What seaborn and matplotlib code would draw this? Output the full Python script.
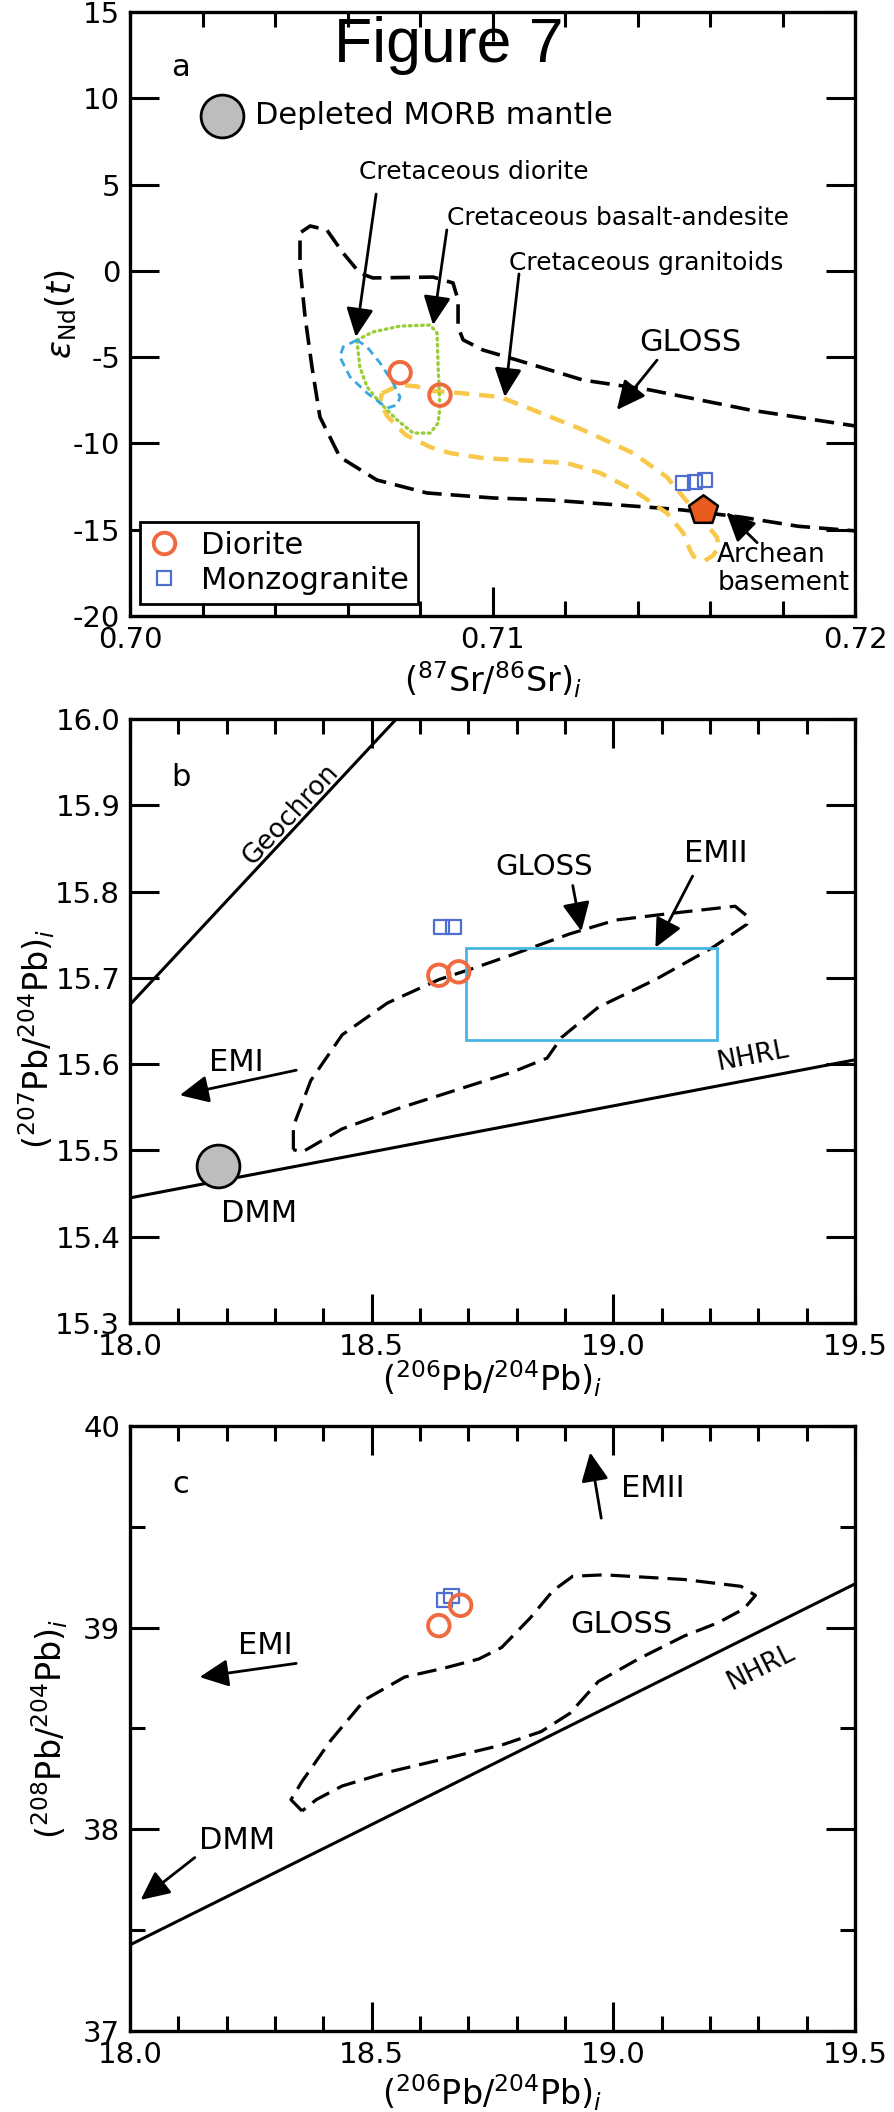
import numpy as np
import matplotlib
matplotlib.use("Agg")
import matplotlib.pyplot as plt
import seaborn as sns
from matplotlib.lines import Line2D
from matplotlib.patches import Rectangle
from matplotlib.ticker import MultipleLocator, FormatStrFormatter

sns.set_theme(style="white")
plt.rcParams["font.family"] = ["DejaVu Sans"]
plt.rcParams["mathtext.fontset"] = "dejavusans"
plt.rcParams["axes.unicode_minus"] = False
plt.rcParams["lines.scale_dashes"] = False
plt.rcParams["text.color"] = "black"
plt.rcParams["axes.labelcolor"] = "black"

# ---------------- panel a: (87Sr/86Sr)i vs eNd(t) ----------------
diorite_sr = [0.70745, 0.70855]
diorite_nd = [-5.9, -7.2]
monzo_sr = [0.71526, 0.71559, 0.71586]
monzo_nd = [-12.30, -12.24, -12.12]
archean_sr = [0.71581]
archean_nd = [-13.86]
dmm_sr = [0.70255]
dmm_nd = [9.0]

gloss_a_sr = [0.7202, 0.7171, 0.71434, 0.7125, 0.71068, 0.70974, 0.70919, 0.70905,
              0.70905, 0.70891, 0.70836, 0.7067, 0.70634, 0.70588, 0.70543, 0.70497,
              0.70469, 0.70469, 0.70483, 0.70502, 0.70524, 0.70579, 0.70681, 0.70819,
              0.71001, 0.71159, 0.71434, 0.71526, 0.71686, 0.71843, 0.7202]
gloss_a_nd = [-9.05, -8.06, -6.9, -6.33, -5.17, -4.59, -4.0, -3.25,
              -1.69, -0.70, -0.36, -0.41, -0.13, 1.03, 2.37, 2.6,
              2.2, 0.22, -2.67, -5.57, -8.47, -10.79, -12.12, -12.87,
              -13.16, -13.28, -13.7, -13.86, -14.27, -14.8, -15.1]

granitoid_sr = [0.70695, 0.70745, 0.70792, 0.70828, 0.7091, 0.71021, 0.71112, 0.7125,
                0.71388, 0.71481, 0.71572, 0.71619, 0.71625, 0.71608, 0.71585, 0.71555,
                0.71545, 0.71526, 0.71481, 0.71388, 0.71297, 0.71206, 0.71068, 0.70974,
                0.70883, 0.70828, 0.70760, 0.70709, 0.70690, 0.70695]
granitoid_nd = [-7.1, -6.6, -6.7, -6.95, -7.08, -7.31, -8.06, -9.22,
                -10.56, -11.95, -14.26, -15.42, -16.0, -16.5, -16.8, -16.55,
                -16.18, -15.19, -14.03, -12.7, -11.71, -11.14, -10.96, -10.85,
                -10.56, -10.21, -9.5, -8.4, -7.6, -7.1]

basalt_sr = [0.70626, 0.7067, 0.70745, 0.70828, 0.70847, 0.7085, 0.70855, 0.7085,
             0.70828, 0.70781, 0.70737, 0.7069, 0.70654, 0.70634, 0.70626]
basalt_nd = [-4.01, -3.54, -3.2, -3.14, -3.6, -5.57, -7.89, -8.82,
             -9.4, -9.4, -8.64, -7.66, -6.73, -5.57, -4.01]

cret_diorite_sr = [0.70626, 0.70588, 0.70579, 0.70607, 0.70654, 0.70709, 0.70737,
                   0.70745, 0.70726, 0.7069, 0.70654, 0.70626]
cret_diorite_nd = [-4.01, -4.41, -4.99, -6.15, -7.08, -7.95, -7.77,
                   -7.31, -6.5, -5.34, -4.41, -4.01]

# ---------------- panel b: 206Pb/204Pb vs 207Pb/204Pb ----------------
diorite_206_b = [18.639, 18.680]
diorite_207 = [15.703, 15.707]
monzo_206_b = [18.645, 18.669]
monzo_207 = [15.759, 15.759]
dmm_206_b = [18.183]
dmm_207 = [15.482]

geochron_206 = [18.0, 18.551]
geochron_207 = [15.669, 16.0]
nhrl_206 = [18.0, 19.5]
nhrl_207 = [15.445, 15.605]

emii_box_206 = [18.695, 19.215]
emii_box_207 = [15.628, 15.735]

gloss_b_206 = [18.338, 18.338, 18.374, 18.439, 18.533, 18.639, 18.710, 18.792, 18.910,
               19.005, 19.123, 19.252, 19.276, 19.276, 19.205, 19.087, 18.969, 18.893,
               18.863, 18.792, 18.675, 18.557, 18.439, 18.356, 18.338]
gloss_b_207 = [15.501, 15.528, 15.581, 15.634, 15.671, 15.698, 15.711, 15.727, 15.751,
               15.767, 15.775, 15.783, 15.772, 15.762, 15.735, 15.698, 15.666, 15.631,
               15.607, 15.591, 15.570, 15.549, 15.525, 15.498, 15.501]

# ---------------- panel c: 206Pb/204Pb vs 208Pb/204Pb ----------------
diorite_206_c = [18.639, 18.684]
diorite_208 = [39.010, 39.111]
monzo_206_c = [18.651, 18.665]
monzo_208 = [39.138, 39.156]

nhrl_c_206 = [18.0, 19.5]
nhrl_208 = [37.427, 39.217]

gloss_c_206 = [18.356, 18.333, 18.356, 18.415, 18.486, 18.568, 18.651, 18.722, 18.769,
               18.828, 18.875, 18.916, 18.981, 19.146, 19.264, 19.294, 19.270, 19.217,
               19.146, 19.052, 18.969, 18.910, 18.851, 18.769, 18.651, 18.533, 18.439,
               18.386, 18.356]
gloss_c_208 = [38.091, 38.147, 38.238, 38.440, 38.643, 38.755, 38.800, 38.845, 38.902,
               39.048, 39.183, 39.255, 39.262, 39.239, 39.205, 39.160, 39.093, 39.025,
               38.958, 38.845, 38.733, 38.575, 38.485, 38.418, 38.350, 38.283, 38.215,
               38.148, 38.091]

# ---------------- styles ----------------
C_DIORITE = "#F06A40"
C_MONZO = "#4F6FD0"
C_ARCH = "#E85A1E"
C_DMM = "#BDBDBD"
C_YELLOW = "#F8C84A"
C_GREEN = "#9ACD3A"
C_BLUE = "#3AA8E0"
C_BOX = "#45B5E5"
GLOSS_DASH = (0, (14, 6.5))

TICK_FS = 21
LABEL_FS = 24
TEXT_FS = 22
SMALL_FS = 18

W, H = 894, 2112
fig = plt.figure(figsize=(W / 100, H / 100), dpi=100)
fig.patch.set_facecolor("white")


def rect(top_px, bottom_px, left_px=130, right_px=855):
    return [left_px / W, 1 - bottom_px / H, (right_px - left_px) / W, (bottom_px - top_px) / H]


ax_a = fig.add_axes(rect(12, 616))
ax_b = fig.add_axes(rect(719, 1323))
ax_c = fig.add_axes(rect(1426, 2031))


def style(ax, xlim, ylim, xmaj, xmin, ymaj, ymin, xfmt, yfmt):
    ax.set_xlim(*xlim)
    ax.set_ylim(*ylim)
    ax.set_facecolor("white")
    ax.xaxis.set_major_locator(MultipleLocator(xmaj))
    ax.xaxis.set_minor_locator(MultipleLocator(xmin))
    ax.yaxis.set_major_locator(MultipleLocator(ymaj))
    if ymin:
        ax.yaxis.set_minor_locator(MultipleLocator(ymin))
    ax.xaxis.set_major_formatter(FormatStrFormatter(xfmt))
    ax.yaxis.set_major_formatter(FormatStrFormatter(yfmt))
    ax.tick_params(which="both", direction="in", top=True, right=True,
                   bottom=True, left=True, width=2.2, color="black")
    ax.tick_params(which="major", length=21, labelsize=TICK_FS, pad=7,
                   labelcolor="black")
    ax.tick_params(which="minor", length=10.5)
    for sp in ax.spines.values():
        sp.set_linewidth(2.4)
        sp.set_color("black")
        sp.set_visible(True)
    ax.grid(False)


def arrow(ax, tail, tip):
    ax.annotate("", xy=tip, xytext=tail,
                arrowprops=dict(arrowstyle="-|>,head_length=0.8,head_width=0.38",
                                color="black", lw=2.0, shrinkA=0, shrinkB=0,
                                mutation_scale=22),
                zorder=6)


def screen_angle(ax, xs, ys):
    p = ax.transData.transform(np.column_stack([xs, ys]))
    d = p[-1] - p[0]
    return np.degrees(np.arctan2(d[1], d[0]))


def diorite(ax, x, y):
    sns.scatterplot(x=x, y=y, ax=ax, marker="o", s=240, facecolor="none",
                    edgecolor=C_DIORITE, linewidth=2.8, zorder=5, legend=False)


def monzo(ax, x, y):
    sns.scatterplot(x=x, y=y, ax=ax, marker="s", s=110, facecolor="none",
                    edgecolor=C_MONZO, linewidth=1.6, zorder=5, legend=False)


# ================= panel a =================
ax = ax_a
style(ax, (0.70, 0.72), (-20, 15), 0.01, 0.002, 5, None, "%.2f", "%d")
ax.plot(gloss_a_sr, gloss_a_nd, color="black", lw=2.6, ls=GLOSS_DASH, zorder=2)
ax.plot(granitoid_sr, granitoid_nd, color=C_YELLOW, lw=3.2, ls=(0, (11, 7)), zorder=2)
ax.plot(basalt_sr, basalt_nd, color=C_GREEN, lw=2.4, ls=(0, (1.2, 3.2)),
        dash_capstyle="round", zorder=3)
ax.plot(cret_diorite_sr, cret_diorite_nd, color=C_BLUE, lw=2.0, ls=(0, (6, 4)), zorder=3)

sns.scatterplot(x=dmm_sr, y=dmm_nd, ax=ax, marker="o", s=950, color=C_DMM,
                edgecolor="black", linewidth=2.0, zorder=5, legend=False)
diorite(ax, diorite_sr, diorite_nd)
monzo(ax, monzo_sr, monzo_nd)
sns.scatterplot(x=archean_sr, y=archean_nd, ax=ax, marker="p", s=480, color=C_ARCH,
                edgecolor="black", linewidth=1.8, zorder=6, legend=False)

ax.text(0.70138, 11.8, "a", fontsize=TEXT_FS, ha="center", va="center")
ax.text(0.70345, 9.0, "Depleted MORB mantle", fontsize=TEXT_FS, ha="left", va="center")
ax.text(0.70632, 5.73, "Cretaceous diorite", fontsize=SMALL_FS, ha="left", va="center")
ax.text(0.70874, 3.06, "Cretaceous basalt-andesite", fontsize=SMALL_FS, ha="left", va="center")
ax.text(0.71046, 0.45, "Cretaceous granitoids", fontsize=SMALL_FS, ha="left", va="center")
ax.text(0.71545, -4.18, "GLOSS", fontsize=TEXT_FS, ha="center", va="center")
ax.text(0.7162, -17.3, "Archean\nbasement", fontsize=19, ha="left", va="center",
        linespacing=1.1)

arrow(ax, (0.70679, 4.45), (0.70623, -3.83))
arrow(ax, (0.70874, 2.37), (0.70836, -3.14))
arrow(ax, (0.71073, -0.18), (0.71034, -7.31))
arrow(ax, (0.71454, -5.17), (0.71343, -8.06))
arrow(ax, (0.7173, -15.75), (0.71645, -14.0))

handles = [
    Line2D([], [], ls="", marker="o", markersize=15.5, markerfacecolor="none",
           markeredgecolor=C_DIORITE, markeredgewidth=2.8, label="Diorite"),
    Line2D([], [], ls="", marker="s", markersize=10.5, markerfacecolor="none",
           markeredgecolor=C_MONZO, markeredgewidth=1.6, label="Monzogranite"),
]
leg = ax.legend(handles=handles, loc="lower left", bbox_to_anchor=(0.0138, 0.0199),
                borderaxespad=0, fontsize=TEXT_FS, frameon=True, fancybox=False,
                edgecolor="black", framealpha=1, handlelength=1.0, handletextpad=0.7,
                borderpad=0.3, labelspacing=0.2)
leg.get_frame().set_linewidth(2.0)
leg.set_zorder(7)

ax.set_xlabel(r"$(^{87}\mathrm{Sr}/^{86}\mathrm{Sr})_i$", fontsize=LABEL_FS)
ax.set_ylabel(r"$\varepsilon_{\mathrm{Nd}}(t)$", fontsize=LABEL_FS)
ax.xaxis.set_label_coords(0.5, -0.072)
ax.yaxis.set_label_coords(-0.07, 0.5)

# ================= panel b =================
ax = ax_b
style(ax, (18.0, 19.5), (15.3, 16.0), 0.5, 0.1, 0.1, None, "%.1f", "%.1f")
ax.plot(geochron_206, geochron_207, color="black", lw=2.2, zorder=2)
ax.plot(nhrl_206, nhrl_207, color="black", lw=2.2, zorder=2)
ax.plot(gloss_b_206, gloss_b_207, color="black", lw=2.3, ls=GLOSS_DASH, zorder=2)
ax.add_patch(Rectangle((emii_box_206[0], emii_box_207[0]),
                       emii_box_206[1] - emii_box_206[0],
                       emii_box_207[1] - emii_box_207[0],
                       fill=False, edgecolor=C_BOX, lw=2.0, zorder=2))
sns.scatterplot(x=dmm_206_b, y=dmm_207, ax=ax, marker="o", s=950, color=C_DMM,
                edgecolor="black", linewidth=2.0, zorder=5, legend=False)
diorite(ax, diorite_206_b, diorite_207)
monzo(ax, monzo_206_b, monzo_207)

ang_geo = screen_angle(ax, geochron_206, geochron_207)
ang_nhrl_b = screen_angle(ax, nhrl_206, nhrl_207)
ax.text(18.106, 15.932, "b", fontsize=TEXT_FS, ha="center", va="center")
ax.text(18.333, 15.889, "Geochron", fontsize=19, ha="center", va="center",
        rotation=ang_geo, rotation_mode="anchor")
ax.text(19.288, 15.609, "NHRL", fontsize=19, ha="center", va="center",
        rotation=ang_nhrl_b, rotation_mode="anchor")
ax.text(18.857, 15.828, "GLOSS", fontsize=21, ha="center", va="center")
ax.text(19.211, 15.844, "EMII", fontsize=TEXT_FS, ha="center", va="center")
ax.text(18.22, 15.602, "EMI", fontsize=TEXT_FS, ha="center", va="center")
ax.text(18.268, 15.427, "DMM", fontsize=TEXT_FS, ha="center", va="center")
arrow(ax, (18.344, 15.593), (18.103, 15.564))
arrow(ax, (18.916, 15.807), (18.934, 15.754))
arrow(ax, (19.164, 15.818), (19.087, 15.735))

ax.set_xlabel(r"$(^{206}\mathrm{Pb}/^{204}\mathrm{Pb})_i$", fontsize=LABEL_FS)
ax.set_ylabel(r"$(^{207}\mathrm{Pb}/^{204}\mathrm{Pb})_i$", fontsize=LABEL_FS)
ax.xaxis.set_label_coords(0.5, -0.058)
ax.yaxis.set_label_coords(-0.10, 0.47)

# ================= panel c =================
ax = ax_c
style(ax, (18.0, 19.5), (37.0, 40.0), 0.5, 0.1, 1.0, 0.5, "%.1f", "%d")
ax.plot(nhrl_c_206, nhrl_208, color="black", lw=2.2, zorder=2)
ax.plot(gloss_c_206, gloss_c_208, color="black", lw=2.3, ls=GLOSS_DASH, zorder=2)
monzo(ax, monzo_206_c, monzo_208)
diorite(ax, diorite_206_c, diorite_208)

ang_nhrl_c = screen_angle(ax, nhrl_c_206, nhrl_208)
ax.text(18.106, 39.712, "c", fontsize=TEXT_FS, ha="center", va="center")
ax.text(19.305, 38.80, "NHRL", fontsize=19, ha="center", va="center",
        rotation=ang_nhrl_c, rotation_mode="anchor")
ax.text(19.017, 39.014, "GLOSS", fontsize=TEXT_FS, ha="center", va="center")
ax.text(19.081, 39.689, "EMII", fontsize=TEXT_FS, ha="center", va="center")
ax.text(18.279, 38.913, "EMI", fontsize=TEXT_FS, ha="center", va="center")
ax.text(18.221, 37.945, "DMM", fontsize=TEXT_FS, ha="center", va="center")
arrow(ax, (18.344, 38.823), (18.144, 38.755))
arrow(ax, (18.975, 39.543), (18.952, 39.869))
arrow(ax, (18.134, 37.86), (18.022, 37.65))

ax.set_xlabel(r"$(^{206}\mathrm{Pb}/^{204}\mathrm{Pb})_i$", fontsize=LABEL_FS)
ax.set_ylabel(r"$(^{208}\mathrm{Pb}/^{204}\mathrm{Pb})_i$", fontsize=LABEL_FS)
ax.xaxis.set_label_coords(0.5, -0.068)
ax.yaxis.set_label_coords(-0.083, 0.5)

fig.text(0.502, 1 - 62 / H, "Figure 7", fontsize=45, family=["Liberation Sans"],
         ha="center", va="baseline", color="black", zorder=10)

fig.savefig("out.png", dpi=100, facecolor="white")
